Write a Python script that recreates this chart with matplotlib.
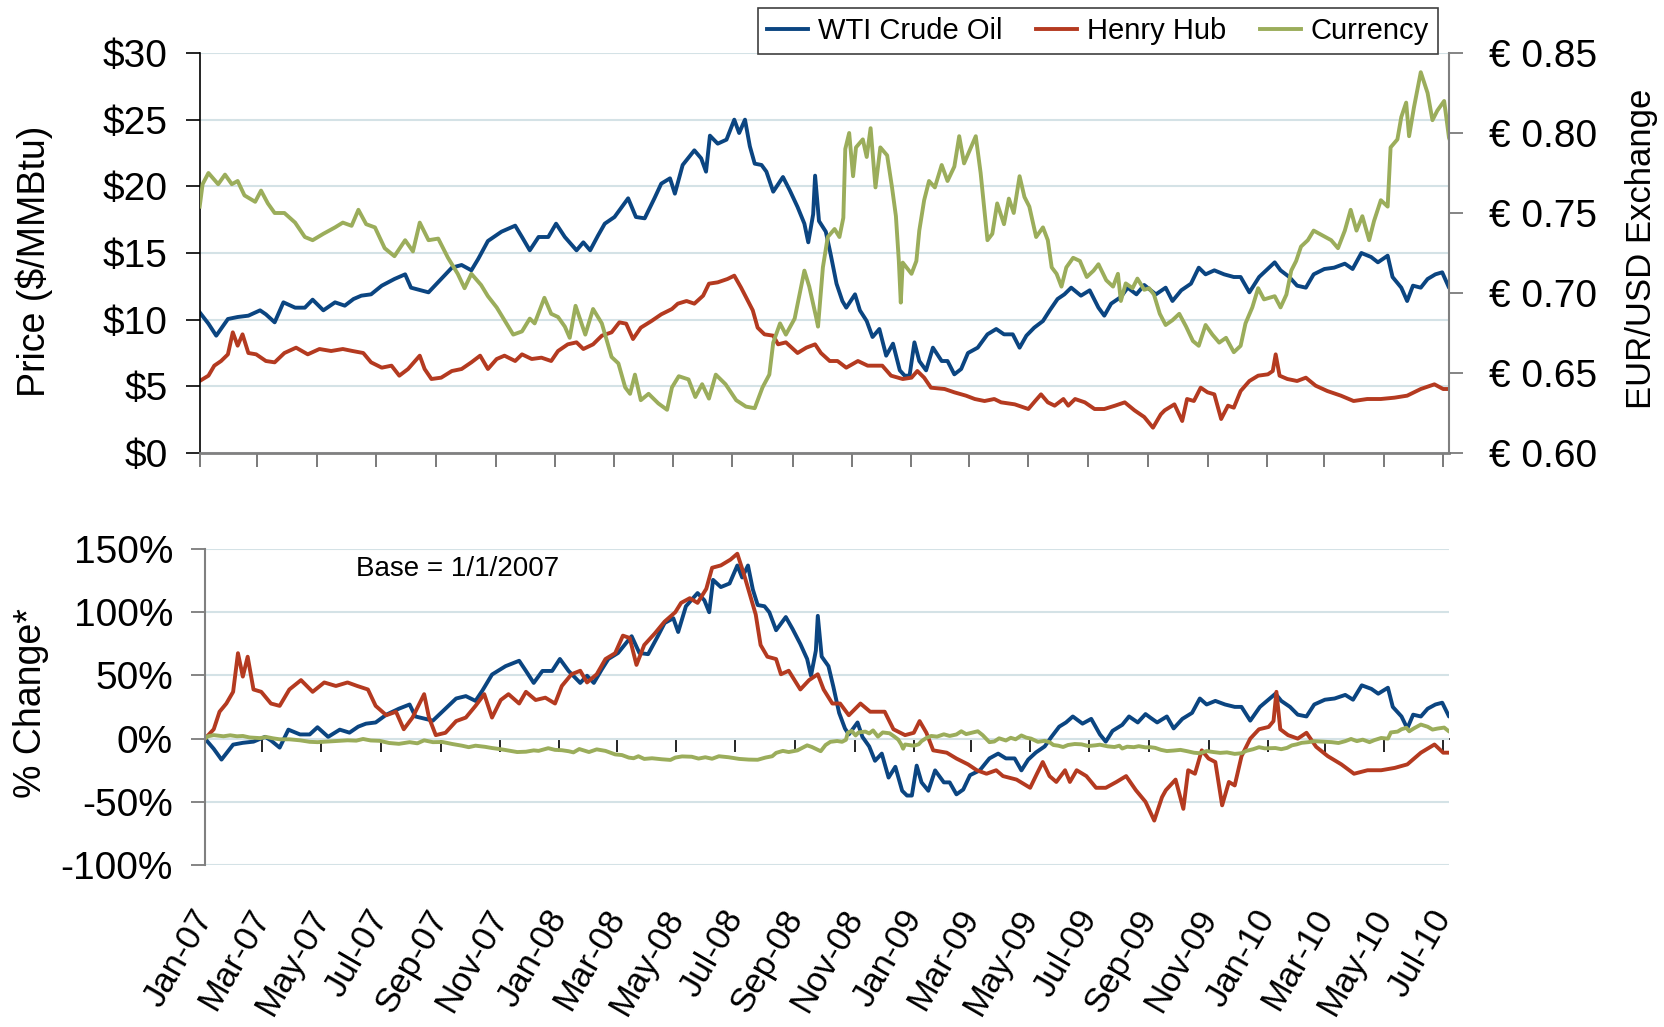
import numpy as np
import pandas as pd
import matplotlib
matplotlib.use('Agg')
import matplotlib.pyplot as plt
import matplotlib.dates as mdates
from matplotlib.ticker import FuncFormatter, MultipleLocator

# values, x = days since 1 Jan 2007
wti_days = [0, 9, 17, 29, 39, 50, 62, 68, 77, 86, 98, 108, 116, 127, 139, 149, 158, 166, 176, 187,
            200, 211, 217, 235, 248, 259, 269, 279, 286, 296, 310, 324, 331, 339, 348, 358, 366, 375,
            387, 394, 401, 409, 416, 426, 440, 448, 457, 467, 474, 483, 488, 496, 508, 515, 520, 524,
            532, 541, 549, 554, 560, 565, 570, 577, 582, 589, 599, 606, 614, 621, 625, 630, 632, 636,
            643, 648, 654, 660, 664, 673, 678, 685, 691, 698, 705, 712, 719, 724, 729, 734, 739, 746,
            753, 762, 768, 775, 782, 789, 799, 809, 818, 826, 835, 842, 849, 857, 866, 873, 881, 888,
            895, 905, 914, 923, 929, 936, 946, 953, 962, 970, 975, 982, 992, 999, 1008, 1018, 1026,
            1033, 1042, 1052, 1062, 1069, 1078, 1088, 1104, 1110, 1119, 1127, 1136, 1144, 1155, 1165,
            1176, 1184, 1193, 1203, 1210, 1220, 1225, 1234, 1240, 1246, 1254, 1261, 1269, 1276, 1283,
            1286]
wti_price = [10.55, 9.7, 8.8, 10.05, 10.2, 10.3, 10.7, 10.4, 9.8, 11.3, 10.9, 10.9, 11.5, 10.7, 11.3,
             11.05, 11.55, 11.8, 11.9, 12.55, 13.05, 13.4, 12.4, 12.05, 13.05, 13.9, 14.1, 13.7, 14.55,
             15.9, 16.6, 17.05, 16.2, 15.2, 16.2, 16.2, 17.2, 16.2, 15.2, 15.8, 15.2, 16.3, 17.2, 17.7,
             19.1, 17.7, 17.6, 19.1, 20.2, 20.6, 19.45, 21.6, 22.7, 22.1, 21.1, 23.8, 23.2, 23.5, 25.0,
             24.0, 25.0, 23.0, 21.7, 21.6, 21.1, 19.6, 20.7, 19.7, 18.45, 17.2, 15.8, 17.9, 20.8, 17.4,
             16.6, 14.9, 12.7, 11.4, 10.9, 11.9, 10.7, 9.9, 8.7, 9.3, 7.3, 8.2, 6.2, 5.8, 5.8, 8.3, 6.9,
             6.2, 7.9, 6.9, 6.9, 5.9, 6.3, 7.5, 7.9, 8.9, 9.3, 8.9, 8.9, 7.9, 8.8, 9.4, 9.9, 10.7, 11.55,
             11.9, 12.4, 11.8, 12.2, 10.9, 10.3, 11.2, 11.7, 12.4, 11.9, 12.6, 12.3, 11.9, 12.4, 11.4,
             12.2, 12.7, 13.9, 13.4, 13.7, 13.4, 13.2, 13.2, 12.05, 13.2, 14.3, 13.7, 13.2, 12.55, 12.4,
             13.4, 13.8, 13.9, 14.2, 13.8, 15.0, 14.7, 14.3, 14.8, 13.2, 12.4, 11.4, 12.55, 12.4, 13.05,
             13.4, 13.55, 12.4, 12.8]

hh_days = [0, 9, 15, 22, 29, 34, 39, 44, 50, 58, 68, 77, 87, 99, 111, 123, 135, 147, 157, 168, 176,
           187, 197, 205, 214, 226, 231, 238, 248, 259, 269, 279, 288, 296, 305, 313, 324, 331, 341,
           351, 361, 368, 378, 387, 394, 404, 413, 423, 431, 438, 445, 453, 464, 474, 485, 491, 500,
           508, 517, 523, 532, 542, 549, 556, 563, 568, 573, 580, 589, 594, 602, 608, 614, 623, 632,
           638, 647, 655, 664, 676, 686, 701, 710, 722, 731, 737, 744, 751, 765, 775, 787, 796, 806,
           816, 823, 837, 851, 858, 864, 871, 878, 887, 892, 899, 909, 919, 929, 940, 950, 960, 970,
           979, 987, 991, 1001, 1009, 1014, 1021, 1028, 1035, 1042, 1049, 1056, 1062, 1069, 1078,
           1087, 1097, 1102, 1105, 1109, 1117, 1127, 1136, 1146, 1158, 1172, 1185, 1199, 1213, 1227,
           1240, 1254, 1268, 1277, 1286]
hh_price = [5.4, 5.8, 6.55, 6.9, 7.4, 9.05, 8.05, 8.9, 7.5, 7.4, 6.9, 6.8, 7.5, 7.9, 7.4, 7.8, 7.65,
            7.8, 7.65, 7.5, 6.8, 6.4, 6.55, 5.8, 6.3, 7.3, 6.3, 5.55, 5.65, 6.15, 6.3, 6.8, 7.3, 6.3,
            7.05, 7.3, 6.9, 7.4, 7.05, 7.15, 6.9, 7.65, 8.15, 8.3, 7.8, 8.15, 8.8, 9.05, 9.8, 9.7, 8.55,
            9.4, 9.9, 10.4, 10.8, 11.2, 11.4, 11.2, 11.8, 12.7, 12.8, 13.05, 13.3, 12.4, 11.4, 10.7,
            9.4, 8.9, 8.8, 8.15, 8.3, 7.9, 7.5, 7.9, 8.15, 7.5, 6.9, 6.9, 6.4, 6.9, 6.55, 6.55, 5.8,
            5.55, 5.65, 6.15, 5.65, 4.9, 4.8, 4.55, 4.3, 4.05, 3.9, 4.05, 3.8, 3.65, 3.3, 3.9, 4.4, 3.8,
            3.55, 4.05, 3.55, 4.05, 3.8, 3.3, 3.3, 3.55, 3.8, 3.2, 2.7, 1.9, 2.9, 3.2, 3.65, 2.4, 4.05,
            3.9, 4.9, 4.55, 4.4, 2.55, 3.55, 3.4, 4.65, 5.4, 5.8, 5.9, 6.15, 7.4, 5.8, 5.55, 5.4, 5.65,
            5.05, 4.65, 4.3, 3.9, 4.05, 4.05, 4.15, 4.3, 4.8, 5.15, 4.8, 4.8]

fx_days = [0, 3, 9, 19, 26, 33, 39, 46, 57, 63, 70, 77, 87, 98, 108, 116, 127, 139, 147, 156, 163,
           171, 180, 190, 200, 211, 219, 226, 235, 245, 255, 265, 272, 279, 289, 296, 305, 313, 322,
           331, 339, 344, 354, 361, 368, 375, 380, 386, 396, 404, 413, 423, 430, 437, 442, 447, 453,
           461, 471, 480, 485, 492, 502, 509, 516, 523, 530, 540, 551, 561, 570, 578, 585, 589, 596,
           602, 611, 616, 621, 626, 633, 635, 640, 645, 652, 657, 661, 663, 667, 671, 674, 681, 685,
           689, 694, 699, 706, 711, 715, 718, 720, 722, 731, 736, 739, 744, 749, 755, 762, 768, 775,
           780, 785, 792, 797, 802, 809, 814, 819, 826, 831, 836, 842, 847, 852, 859, 866, 871, 875,
           880, 885, 890, 897, 904, 911, 918, 923, 931, 938, 943, 946, 951, 958, 963, 970, 975, 980,
           986, 992, 999, 1006, 1013, 1020, 1026, 1033, 1040, 1047, 1054, 1062, 1069, 1074, 1081,
           1087, 1093, 1104, 1110, 1116, 1121, 1126, 1131, 1138, 1144, 1153, 1162, 1169, 1176, 1182,
           1188, 1194, 1201, 1206, 1213, 1220, 1223, 1230, 1234, 1239, 1242, 1247, 1254, 1261, 1266,
           1271, 1278, 1283, 1286]
fx_rate = [0.754, 0.768, 0.775, 0.768, 0.774, 0.768, 0.770, 0.761, 0.757, 0.764, 0.756, 0.750, 0.750,
           0.744, 0.735, 0.733, 0.737, 0.741, 0.744, 0.742, 0.752, 0.743, 0.741, 0.728, 0.723, 0.733,
           0.726, 0.744, 0.733, 0.734, 0.722, 0.712, 0.703, 0.712, 0.705, 0.698, 0.691, 0.683, 0.674,
           0.676, 0.684, 0.681, 0.697, 0.687, 0.685, 0.679, 0.672, 0.692, 0.674, 0.690, 0.681, 0.660,
           0.656, 0.641, 0.637, 0.649, 0.633, 0.637, 0.631, 0.627, 0.641, 0.648, 0.646, 0.635, 0.643,
           0.634, 0.649, 0.643, 0.633, 0.629, 0.628, 0.641, 0.649, 0.669, 0.681, 0.674, 0.684, 0.699,
           0.714, 0.704, 0.685, 0.679, 0.716, 0.735, 0.740, 0.735, 0.747, 0.790, 0.800, 0.773, 0.791,
           0.796, 0.785, 0.803, 0.766, 0.791, 0.786, 0.766, 0.748, 0.720, 0.694, 0.719, 0.712, 0.720,
           0.739, 0.758, 0.770, 0.766, 0.780, 0.770, 0.779, 0.798, 0.781, 0.791, 0.798, 0.775, 0.733,
           0.737, 0.756, 0.743, 0.759, 0.750, 0.773, 0.760, 0.754, 0.735, 0.741, 0.733, 0.716, 0.712,
           0.704, 0.716, 0.722, 0.720, 0.710, 0.714, 0.718, 0.708, 0.704, 0.712, 0.695, 0.706, 0.703,
           0.709, 0.702, 0.703, 0.699, 0.687, 0.680, 0.683, 0.687, 0.679, 0.670, 0.667, 0.680, 0.674,
           0.669, 0.672, 0.663, 0.667, 0.681, 0.691, 0.703, 0.696, 0.698, 0.691, 0.699, 0.714, 0.720,
           0.729, 0.733, 0.739, 0.736, 0.733, 0.728, 0.739, 0.752, 0.739, 0.748, 0.733, 0.745, 0.758,
           0.754, 0.791, 0.796, 0.810, 0.819, 0.798, 0.816, 0.838, 0.825, 0.808, 0.814, 0.820, 0.797,
           0.792]

names = ['WTI Crude Oil', 'Henry Hub', 'Currency']
colors = ['#0b4581', '#b43a20', '#9bad5b']

start = pd.Timestamp('2007-01-01')


def to_dates(days):
    return start + pd.to_timedelta(days, unit='D')


def pct(vals):
    v = np.array(vals)
    return (v / v[0] - 1) * 100


plt.rcParams['font.family'] = ['Liberation Sans', 'DejaVu Sans']
grid_col = '#d4e2e6'
lw = 2.8
tick_fs = 28
xmin, xmax = start, start + pd.Timedelta(days=1283)


def month_ticks():
    return mdates.MonthLocator(bymonth=[1, 3, 5, 7, 9, 11])


fig = plt.figure(figsize=(16.64, 10.27), dpi=100)
ax = fig.add_axes([0.1200, 0.5589, 0.7508, 0.3895])
ax2 = ax.twinx()
axb = fig.add_axes([0.1232, 0.1577, 0.7476, 0.3077])

# top panel: prices + exchange rate
l1, = ax.plot(to_dates(wti_days), wti_price, color=colors[0], lw=lw)
l2, = ax.plot(to_dates(hh_days), hh_price, color=colors[1], lw=lw)
l3, = ax2.plot(to_dates(fx_days), fx_rate, color=colors[2], lw=lw)

ax.set_xlim(xmin, xmax)
ax.set_ylim(0, 30)
ax.yaxis.set_major_locator(MultipleLocator(5))
ax.yaxis.set_major_formatter(FuncFormatter(lambda v, p: f'${v:.0f}'))
ax.grid(axis='y', color=grid_col, lw=1.5)
ax.set_axisbelow(True)
ax.xaxis.set_major_locator(month_ticks())
ax.tick_params(axis='x', direction='out', length=10, width=1.3, color='#707070', labelbottom=False)
ax.tick_params(axis='y', direction='out', length=10, width=1.2, labelsize=tick_fs, pad=13)
for s in ['top', 'right']:
    ax.spines[s].set_visible(False)
ax.spines['left'].set_linewidth(1.2)
ax.spines['bottom'].set_color('#808080')
ax.spines['bottom'].set_linewidth(2)

ax2.set_ylim(0.60, 0.85)
ax2.yaxis.set_major_locator(MultipleLocator(0.05))
ax2.yaxis.set_major_formatter(FuncFormatter(lambda v, p: f'\u20ac {v:.2f}'))
ax2.tick_params(axis='y', direction='out', length=10, width=1.2, color='#707070', labelsize=tick_fs, pad=19)
for s in ['top', 'left', 'bottom']:
    ax2.spines[s].set_visible(False)
ax2.spines['right'].set_color('#808080')
ax2.spines['right'].set_linewidth(1.5)

leg = ax2.legend([l1, l2, l3], names, loc='upper right', bbox_to_anchor=(1438 / 1664, 1 - 8 / 1027),
                 bbox_transform=fig.transFigure, ncol=3, fontsize=21, frameon=True, fancybox=False,
                 edgecolor='#404040', framealpha=1, handlelength=1.4, handletextpad=0.35,
                 columnspacing=1.15, borderpad=0.3, borderaxespad=0)
leg.get_frame().set_linewidth(1.2)

# bottom panel: % change vs 1/1/2007
axb.plot(to_dates(wti_days), pct(wti_price), color=colors[0], lw=lw)
axb.plot(to_dates(hh_days), pct(hh_price), color=colors[1], lw=lw)
axb.plot(to_dates(fx_days), pct(fx_rate), color=colors[2], lw=lw)

axb.set_xlim(xmin, xmax)
axb.set_ylim(-100, 150)
axb.yaxis.set_major_locator(MultipleLocator(50))
axb.yaxis.set_major_formatter(FuncFormatter(lambda v, p: f'{v:.0f}%'))
axb.grid(axis='y', color=grid_col, lw=1.5)
axb.set_axisbelow(True)
axb.tick_params(axis='y', direction='out', length=10, width=1.2, color='#707070', labelsize=tick_fs, pad=13)
for s in ['top', 'right', 'bottom']:
    axb.spines[s].set_visible(False)
axb.spines['left'].set_color('#808080')
axb.spines['left'].set_linewidth(1.5)

# month labels hang below the panel
axb.xaxis.set_major_locator(month_ticks())
axb.xaxis.set_major_formatter(mdates.DateFormatter('%b-%y'))
axb.tick_params(axis='x', length=0, labelsize=25, pad=34)
for lab in axb.get_xticklabels():
    lab.set_rotation(60)
    lab.set_ha('right')
    lab.set_va('center')
    lab.set_rotation_mode('anchor')

# zero line with the month tick marks (0 sits 40% up the panel)
zero = axb.secondary_xaxis(0.4)
zero.xaxis.set_major_locator(month_ticks())
zero.tick_params(axis='x', direction='out', length=9, width=1.2, labelbottom=False, labeltop=False)
zero.spines['bottom'].set_linewidth(1.2)

axb.text(0.121, 0.937, 'Base = 1/1/2007', transform=axb.transAxes, fontsize=20, va='center', ha='left')

fig.text(34.5 / 1664, 1 - 261.5 / 1027, 'Price ($/MMBtu)', rotation=90, ha='center', va='center', fontsize=27)
fig.text(31 / 1664, 1 - 703.5 / 1027, '% Change*', rotation=90, ha='center', va='center', fontsize=27)
fig.text(1641 / 1664, 1 - 248.5 / 1027, 'EUR/USD Exchange', rotation=90, ha='center', va='center', fontsize=25)

fig.savefig('out.png', dpi=100)
